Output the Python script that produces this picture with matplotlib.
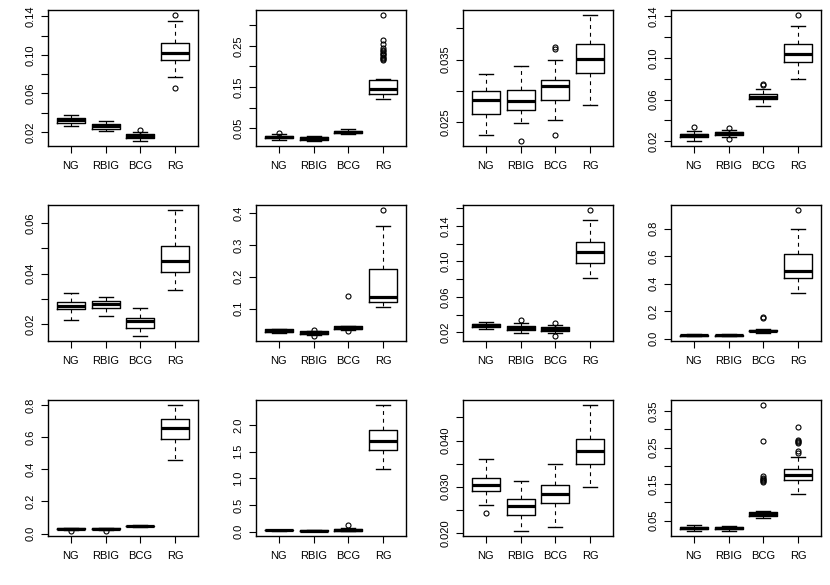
import matplotlib
matplotlib.use("Agg")
import matplotlib.pyplot as plt

plt.rcParams["font.family"] = ["Liberation Sans", "DejaVu Sans"]
plt.rcParams["font.size"] = 8

groups = ["NG", "RBIG", "BCG", "RG"]

# each box: whislo, q1, med, q3, whishi
p01_stats = [[0.0258, 0.0293, 0.0320, 0.0344, 0.0372],
             [0.0207, 0.0234, 0.0258, 0.0282, 0.0317],
             [0.0107, 0.0138, 0.0158, 0.0179, 0.0196],
             [0.0771, 0.0943, 0.1022, 0.1125, 0.1348]]
p01_fliers = [[], [], [0.0217], [0.1414, 0.0657]]
p01_ticks = [0.02, 0.04, 0.06, 0.08, 0.10, 0.12, 0.14]
p01_labels = ["0.02", "", "0.06", "", "0.10", "", "0.14"]

p02_stats = [[0.022, 0.025, 0.029, 0.032, 0.035],
             [0.019, 0.022, 0.026, 0.029, 0.032],
             [0.036, 0.039, 0.041, 0.044, 0.047],
             [0.1215, 0.1335, 0.1456, 0.1673, 0.1700]]
p02_fliers = [[0.038], [], [],
              [0.3247, 0.2645, 0.2548, 0.245, 0.241, 0.237, 0.233, 0.230,
               0.227, 0.224, 0.221, 0.218, 0.216]]
p02_ticks = [0.05, 0.10, 0.15, 0.20, 0.25, 0.30]
p02_labels = ["0.05", "", "0.15", "", "0.25", ""]

p03_stats = [[0.0230, 0.0263, 0.0285, 0.0299, 0.0327],
             [0.0249, 0.0269, 0.0284, 0.0302, 0.0339],
             [0.0253, 0.0286, 0.0308, 0.0318, 0.0350],
             [0.0277, 0.0329, 0.0351, 0.0375, 0.0421]]
p03_fliers = [[], [0.0220], [0.0370, 0.0366, 0.0229], []]
p03_ticks = [0.025, 0.030, 0.035, 0.040]
p03_labels = ["0.025", "", "0.035", ""]

p04_stats = [[0.0203, 0.0239, 0.0258, 0.0273, 0.0302],
             [0.0239, 0.0264, 0.0280, 0.0293, 0.0312],
             [0.0538, 0.0604, 0.0627, 0.0655, 0.0700],
             [0.0802, 0.0964, 0.1034, 0.1136, 0.1308]]
p04_fliers = [[0.0340], [0.0328, 0.0223], [0.0751, 0.0741], [0.1413]]
p04_ticks = [0.02, 0.04, 0.06, 0.08, 0.10, 0.12, 0.14]
p04_labels = ["0.02", "", "0.06", "", "0.10", "", "0.14"]

p05_stats = [[0.0218, 0.0259, 0.0271, 0.0289, 0.0322],
             [0.0232, 0.0263, 0.0282, 0.0291, 0.0309],
             [0.0154, 0.0187, 0.0213, 0.0225, 0.0264],
             [0.0334, 0.0408, 0.0450, 0.0508, 0.0651]]
p05_fliers = [[], [], [], []]
p05_ticks = [0.02, 0.03, 0.04, 0.05, 0.06]
p05_labels = ["0.02", "", "0.04", "", "0.06"]

p06_stats = [[0.025, 0.027, 0.031, 0.035, 0.037],
             [0.017, 0.0205, 0.0246, 0.0288, 0.031],
             [0.033, 0.036, 0.039, 0.0443, 0.047],
             [0.1053, 0.1218, 0.1363, 0.2232, 0.3597]]
p06_fliers = [[], [0.0329, 0.0143], [0.139, 0.031], [0.4093]]
p06_ticks = [0.1, 0.2, 0.3, 0.4]
p06_labels = ["0.1", "0.2", "0.3", "0.4"]

p07_stats = [[0.0234, 0.0257, 0.0279, 0.0298, 0.0320],
             [0.0193, 0.0230, 0.0253, 0.0272, 0.0305],
             [0.0193, 0.0215, 0.0238, 0.0257, 0.0287],
             [0.0808, 0.0984, 0.1104, 0.1220, 0.1471]]
p07_fliers = [[], [0.0335], [0.0309, 0.0159], [0.158]]
p07_ticks = [0.02, 0.04, 0.06, 0.08, 0.10, 0.12, 0.14, 0.16]
p07_labels = ["0.02", "", "0.06", "", "0.10", "", "0.14", ""]

p08_stats = [[0.020, 0.023, 0.025, 0.028, 0.031],
             [0.020, 0.023, 0.025, 0.028, 0.031],
             [0.045, 0.053, 0.0554, 0.065, 0.067],
             [0.335, 0.439, 0.494, 0.614, 0.800]]
p08_fliers = [[], [], [0.161, 0.152], [0.935]]
p08_ticks = [0.0, 0.2, 0.4, 0.6, 0.8]
p08_labels = ["0.0", "0.2", "0.4", "0.6", "0.8"]

p09_stats = [[0.022, 0.026, 0.029, 0.032, 0.035],
             [0.022, 0.026, 0.029, 0.032, 0.035],
             [0.042, 0.045, 0.0476, 0.050, 0.053],
             [0.4567, 0.590, 0.654, 0.7116, 0.800]]
p09_fliers = [[0.017], [0.016], [], []]
p09_ticks = [0.0, 0.2, 0.4, 0.6, 0.8]
p09_labels = ["0.0", "0.2", "0.4", "0.6", "0.8"]

p10_stats = [[0.020, 0.026, 0.031, 0.036, 0.042],
             [0.017, 0.021, 0.025, 0.029, 0.034],
             [0.018, 0.025, 0.037, 0.055, 0.065],
             [1.176, 1.523, 1.703, 1.907, 2.370]]
p10_fliers = [[], [], [0.136], []]
p10_ticks = [0.0, 0.5, 1.0, 1.5, 2.0]
p10_labels = ["0.0", "0.5", "1.0", "1.5", "2.0"]

p11_stats = [[0.0260, 0.0290, 0.0303, 0.0319, 0.0359],
             [0.0204, 0.0239, 0.0258, 0.0273, 0.0313],
             [0.0213, 0.0264, 0.0284, 0.0303, 0.0349],
             [0.0300, 0.0350, 0.0378, 0.0403, 0.0477]]
p11_fliers = [[0.0242], [], [], []]
p11_ticks = [0.020, 0.025, 0.030, 0.035, 0.040, 0.045]
p11_labels = ["0.020", "", "0.030", "", "0.040", ""]

p12_stats = [[0.022, 0.028, 0.0309, 0.034, 0.037],
             [0.022, 0.027, 0.030, 0.033, 0.036],
             [0.0562, 0.0635, 0.068, 0.0726, 0.076],
             [0.1243, 0.1623, 0.176, 0.1904, 0.223]]
p12_fliers = [[], [],
              [0.366, 0.269, 0.172, 0.168, 0.165, 0.162, 0.158, 0.155],
              [0.3065, 0.270, 0.267, 0.264, 0.261, 0.240, 0.235]]
p12_ticks = [0.05, 0.10, 0.15, 0.20, 0.25, 0.30, 0.35]
p12_labels = ["0.05", "", "0.15", "", "0.25", "", "0.35"]

panels = [
    (p01_stats, p01_fliers, p01_ticks, p01_labels),
    (p02_stats, p02_fliers, p02_ticks, p02_labels),
    (p03_stats, p03_fliers, p03_ticks, p03_labels),
    (p04_stats, p04_fliers, p04_ticks, p04_labels),
    (p05_stats, p05_fliers, p05_ticks, p05_labels),
    (p06_stats, p06_fliers, p06_ticks, p06_labels),
    (p07_stats, p07_fliers, p07_ticks, p07_labels),
    (p08_stats, p08_fliers, p08_ticks, p08_labels),
    (p09_stats, p09_fliers, p09_ticks, p09_labels),
    (p10_stats, p10_fliers, p10_ticks, p10_labels),
    (p11_stats, p11_fliers, p11_ticks, p11_labels),
    (p12_stats, p12_fliers, p12_ticks, p12_labels),
]

W, H = 830, 585
col_left = [48, 256, 463, 671]
row_top = [10, 205, 400]
ax_w, ax_h = 150, 136

fig = plt.figure(figsize=(W / 100, H / 100), dpi=100)
fig.patch.set_facecolor("white")

for i, (stats, fliers, ticks, labels) in enumerate(panels):
    r, c = divmod(i, 4)
    ax = fig.add_axes([col_left[c] / W, 1 - (row_top[r] + ax_h) / H, ax_w / W, ax_h / H])

    boxes = []
    for (wlo, q1, med, q3, whi), fl in zip(stats, fliers):
        boxes.append({"whislo": wlo, "q1": q1, "med": med, "q3": q3,
                      "whishi": whi, "fliers": fl})

    ax.bxp(boxes, positions=[1, 2, 3, 4], widths=0.8, capwidths=0.4,
           showfliers=True,
           boxprops=dict(color="black", linewidth=1.0),
           medianprops=dict(color="black", linewidth=2.3, solid_capstyle="butt"),
           whiskerprops=dict(color="black", linewidth=0.8, linestyle=(0, (3.5, 3.5))),
           capprops=dict(color="black", linewidth=1.0),
           flierprops=dict(marker="o", markerfacecolor="none", markeredgecolor="black",
                           markersize=3.6, markeredgewidth=0.8, linestyle="none"))

    # R style: extend data range by 4%
    lo = min(min(s[0] for s in stats), min([v for f in fliers for v in f] or [1e9]))
    hi = max(max(s[4] for s in stats), max([v for f in fliers for v in f] or [-1e9]))
    pad = 0.04 * (hi - lo)
    ax.set_ylim(lo - pad, hi + pad)
    ax.set_xlim(0.34, 4.66)

    ax.set_xticks([1, 2, 3, 4])
    ax.set_xticklabels(groups)
    ax.set_yticks(ticks)
    ax.set_yticklabels(labels)
    ax.tick_params(direction="out", length=5, width=0.8, colors="black")
    ax.tick_params(axis="x", pad=5.5)
    ax.tick_params(axis="y", pad=4, labelrotation=90)
    for lab in ax.get_yticklabels():
        lab.set_va("center")
    for sp in ax.spines.values():
        sp.set_linewidth(1.0)

fig.savefig("out.png", dpi=100, facecolor="white")
